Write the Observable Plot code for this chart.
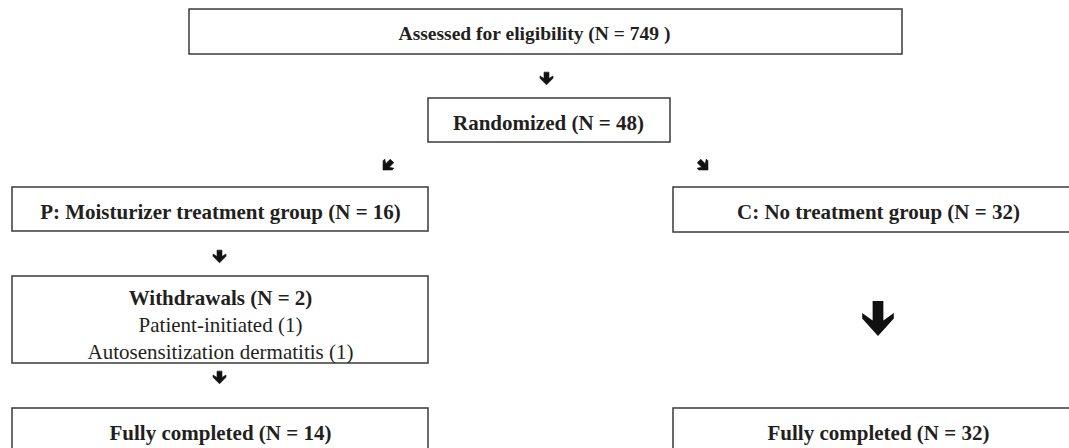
<!DOCTYPE html>
<html>
<head>
<meta charset="utf-8">
<script src="https://cdn.jsdelivr.net/npm/d3@7"></script>
<script src="https://cdn.jsdelivr.net/npm/@observablehq/plot@0.6"></script>
<style>
  html, body { margin: 0; padding: 0; background: #fff; overflow: hidden; }
  #chart svg { display: block; }
</style>
</head>
<body>
<div id="chart"></div>
<script>
// ---- content (data) ----
const stageIds = ["assessed", "randomized", "groupP", "groupC", "withdrawals", "completedP", "completedC"];
const stageLabels = [
  "Assessed for eligibility (N = 749 )",
  "Randomized (N = 48)",
  "P: Moisturizer treatment group (N = 16)",
  "C: No treatment group (N = 32)",
  "Withdrawals (N = 2)",
  "Fully completed (N = 14)",
  "Fully completed (N = 32)"
];
const withdrawalReasons = ["Patient-initiated (1)", "Autosensitization dermatitis (1)"];
const flowFrom = ["assessed", "randomized", "randomized", "groupP", "withdrawals", "groupC"];
const flowTo   = ["randomized", "groupP", "groupC", "withdrawals", "completedP", "completedC"];

// ---- layout (positions in page pixels, separate from content) ----
const boxLayout = {
  assessed:    {x1: 189, x2: 902,  y1: 9,   y2: 54,  tx: 534, ty: 32,  fs: 19.5},
  randomized:  {x1: 428, x2: 670,  y1: 98,  y2: 142, tx: 548, ty: 121, fs: 21},
  groupP:      {x1: 12,  x2: 428,  y1: 187, y2: 231, tx: 220, ty: 210, fs: 21},
  groupC:      {x1: 673, x2: 1083, y1: 187, y2: 232, tx: 878, ty: 210, fs: 21},
  withdrawals: {x1: 12,  x2: 428,  y1: 276, y2: 363, tx: 220, ty: 296, fs: 21},
  completedP:  {x1: 12,  x2: 428,  y1: 408, y2: 454, tx: 220, ty: 431, fs: 21},
  completedC:  {x1: 673, x2: 1083, y1: 408, y2: 454, tx: 878, ty: 431, fs: 21}
};
const reasonsLayout = {tx: 220, ty: 335};
const arrowLayout = [
  {x: 546,   y: 78,  r: 6.5, rotate: 0,   kind: "small"},
  {x: 387,   y: 165, r: 6.5, rotate: 45,  kind: "small"},
  {x: 703,   y: 165, r: 6.5, rotate: -45, kind: "small"},
  {x: 219,   y: 256, r: 6.5, rotate: 0,   kind: "small"},
  {x: 219,   y: 377, r: 6.5, rotate: 0,   kind: "small"},
  {x: 877.5, y: 318, r: 15.8, rotate: 0,  kind: "big"}
];

// ---- tables built from the arrays ----
const boxes = stageIds.map((id, i) => ({id, label: stageLabels[i], ...boxLayout[id]}));
const reasons = [{label: withdrawalReasons.join("\n"), ...reasonsLayout}];
const arrows = flowFrom.map((f, i) => ({from: f, to: flowTo[i], ...arrowLayout[i]}));

// chunky "block" arrow pointing down, drawn as a custom symbol
function makeArrow(aspect, stem, cornerTop, cornerBottom, junction) {
  return {
    draw(context, size) {
      const r = Math.sqrt(size / Math.PI);
      const w = 2 * r, h = aspect * w;
      const pts = [
        [-stem, -0.5], [stem, -0.5], [stem, junction], [0.5, cornerTop],
        [0.5, cornerBottom], [0, 0.5], [-0.5, cornerBottom], [-0.5, cornerTop], [-stem, junction]
      ];
      pts.forEach(([px, py], k) => {
        const X = px * w, Y = py * h;
        if (k === 0) context.moveTo(X, Y); else context.lineTo(X, Y);
      });
      context.closePath();
    }
  };
}
const smallArrow = makeArrow(0.98, 0.19, -0.2, -0.02, 0.0);
const bigArrow = makeArrow(1.1, 0.17, -0.16, 0.0, 0.06);

const font = "'Liberation Serif', 'Times New Roman', Times, serif";
const ink = "#231f20";

const chart = Plot.plot({
  width: 1069,
  height: 448,
  margin: 0,
  x: {domain: [0, 1069], range: [0, 1069], axis: null},
  y: {domain: [0, 448], range: [0, 448], axis: null},
  r: {type: "identity"},
  style: {background: "#fff", fontFamily: font},
  marks: [
    Plot.rect(boxes, {
      x1: "x1", x2: "x2", y1: "y1", y2: "y2",
      fill: "#fff", stroke: "#3a3a3a", strokeWidth: 1.5, clip: true
    }),
    Plot.text(boxes, {
      x: "tx", y: "ty", text: "label", fontSize: "fs",
      fontFamily: font, fontWeight: "bold", fill: ink,
      lineAnchor: "middle", dy: 1.5
    }),
    Plot.text(reasons, {
      x: "tx", y: "ty", text: "label",
      fontFamily: font, fontSize: 21, fontWeight: "normal", fill: ink,
      lineAnchor: "middle", lineHeight: 1.26, dy: 1.5
    }),
    Plot.dot(arrows, Plot.filter(d => d.kind === "small", {
      x: "x", y: "y", r: "r", rotate: "rotate",
      symbol: smallArrow, fill: "#111", stroke: "#111", strokeWidth: 0.6
    })),
    Plot.dot(arrows, Plot.filter(d => d.kind === "big", {
      x: "x", y: "y", r: "r", rotate: "rotate",
      symbol: bigArrow, fill: "#111", stroke: "none"
    }))
  ]
});

document.getElementById("chart").appendChild(chart);
</script>
</body>
</html>
